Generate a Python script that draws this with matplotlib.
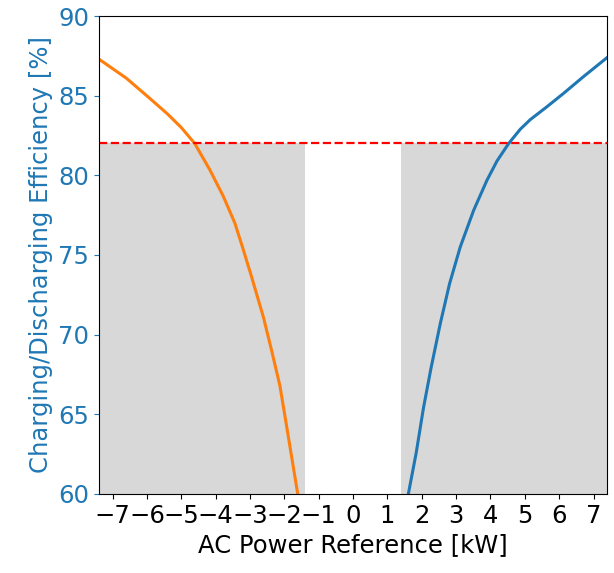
import numpy as np
import matplotlib.pyplot as plt

# efficiency curves
p_dis = [-7.4, -6.6, -5.9, -5.4, -5.0, -4.61, -4.17, -3.78, -3.44, -3.19,
         -2.95, -2.61, -2.37, -2.13, -1.93, -1.74, -1.61]
eff_dis = [87.3, 86.1, 84.8, 83.85, 83.0, 82.0, 80.35, 78.7, 77.0, 75.3,
           73.6, 71.1, 69.0, 66.8, 64.2, 61.7, 60.0]

p_chg = [1.61, 1.84, 2.05, 2.27, 2.54, 2.81, 3.12, 3.51, 3.90, 4.19,
         4.53, 4.87, 5.16, 5.64, 6.13, 6.71, 7.4]
eff_chg = [60.0, 62.6, 65.4, 67.9, 70.7, 73.2, 75.5, 77.8, 79.7, 80.9,
           82.0, 82.9, 83.5, 84.3, 85.15, 86.2, 87.4]

eff_limit = 82
p_min = 1.4
p_max = 7.4
ticks = list(range(-7, 8))

fig = plt.figure(figsize=(6.14, 5.73), dpi=100)
ax = fig.add_axes([0.161, 0.138, 0.828, 0.834])

ax.fill_between([-p_max, -p_min], 60, eff_limit, color='gray', alpha=0.3, lw=0)
ax.fill_between([p_min, p_max], 60, eff_limit, color='gray', alpha=0.3, lw=0)
ax.plot(p_chg, eff_chg, color='C0', lw=2.2)
ax.plot(p_dis, eff_dis, color='C1', lw=2.2)
ax.axhline(eff_limit, color='red', ls='--', lw=1.6)

ax.set_xlim(-p_max, p_max)
ax.set_ylim(60, 90)
ax.set_xticks(ticks)
ax.tick_params(axis='both', labelsize=17.5)
ax.tick_params(axis='y', colors='C0')
ax.set_xlabel('AC Power Reference [kW]', fontsize=17.5)
ax.set_ylabel('Charging/Discharging Efficiency [%]', fontsize=17.5, color='C0')

plt.savefig('out.png', dpi=100)
plt.close()
